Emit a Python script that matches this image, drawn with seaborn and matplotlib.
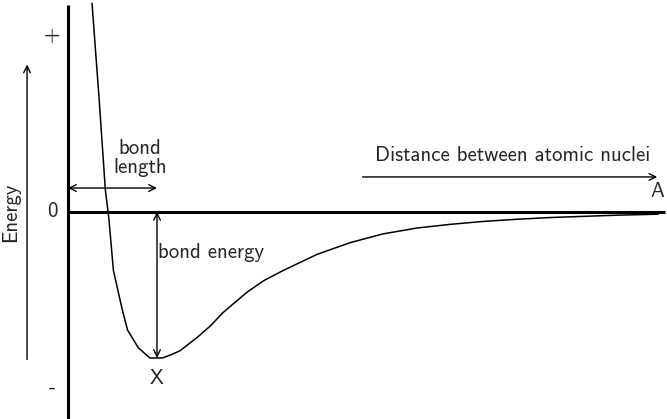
import numpy as np
import pandas as pd
import matplotlib
matplotlib.use("Agg")
import matplotlib.pyplot as plt
import seaborn as sns

# Potential energy curve (distance in bond lengths, energy in bond energies)
distance = [0.27, 0.35, 0.42, 0.46, 0.51, 0.61, 0.67, 0.79, 0.92, 1.06, 1.15, 1.26,
            1.45, 1.60, 1.74, 2.01, 2.20, 2.42, 2.80, 3.17, 3.54, 3.92, 4.29, 4.66, 5.04, 5.42,
            5.79, 6.17, 6.63]
energy = [1.43, 0.77, 0.15, -0.05, -0.40, -0.67, -0.81, -0.93, -1.0, -1.0, -0.98, -0.95,
          -0.86, -0.78, -0.69, -0.55, -0.47, -0.40, -0.29, -0.21, -0.15, -0.11, -0.085,
          -0.065, -0.05, -0.038, -0.03, -0.022, -0.015]

bond_length = 1.0
bond_energy = -1.0
x_end = 6.71
level_labels = ["+", "0", "-"]
level_values = [1.21, 0.0, -1.20]

df = pd.DataFrame({"distance": distance, "energy": energy})

sns.set_theme(style="white")
plt.rcParams["font.family"] = ["cmss10", "DejaVu Sans"]

fig = plt.figure(figsize=(6.67, 4.19), dpi=100)
ax = fig.add_axes([0, 0, 1, 1])
ax.set_xlim(-0.764, 6.73)
ax.set_ylim(-1.418, 1.452)
ax.axis("off")

# curve
sns.lineplot(data=df, x="distance", y="energy", ax=ax, color="black", lw=1.1, sort=False)

# axes lines
ax.plot([0, 0], [-1.45, 1.42], color="black", lw=2.2, solid_capstyle="butt")
ax.plot([0, x_end], [0, 0], color="black", lw=2.2, solid_capstyle="butt")

arrow = dict(arrowstyle="->", color="black", lw=1.0, shrinkA=0, shrinkB=0)
both = dict(arrowstyle="<->", color="black", lw=1.0, shrinkA=0, shrinkB=0)

# energy axis arrow
ax.annotate("", xy=(-0.46, 1.01), xytext=(-0.46, -1.01), arrowprops=arrow)
ax.text(-0.75, 0.0, "Energy", rotation=90, ha="left", va="center", fontsize=15)

for lab, val in zip(level_labels, level_values):
    ax.text(-0.18, val, lab, ha="center", va="center", fontsize=15)

# bond length
ax.annotate("", xy=(0, 0.164), xytext=(bond_length, 0.164), arrowprops=both)
ax.text(0.81, 0.37, "bond\nlength", ha="center", va="center", fontsize=15, linespacing=1.0)

# bond energy
ax.annotate("", xy=(bond_length, 0), xytext=(bond_length, bond_energy), arrowprops=both)
ax.text(1.01, -0.28, "bond energy", ha="left", va="center", fontsize=15)
ax.text(bond_length, -1.14, "X", ha="center", va="center", fontsize=15)

# distance arrow
ax.annotate("", xy=(6.62, 0.24), xytext=(3.31, 0.24), arrowprops=arrow)
ax.text(4.99, 0.39, "Distance between atomic nuclei", ha="center", va="center", fontsize=15)
ax.text(6.62, 0.14, "A", ha="center", va="center", fontsize=15)

fig.savefig("out.png", dpi=100)
